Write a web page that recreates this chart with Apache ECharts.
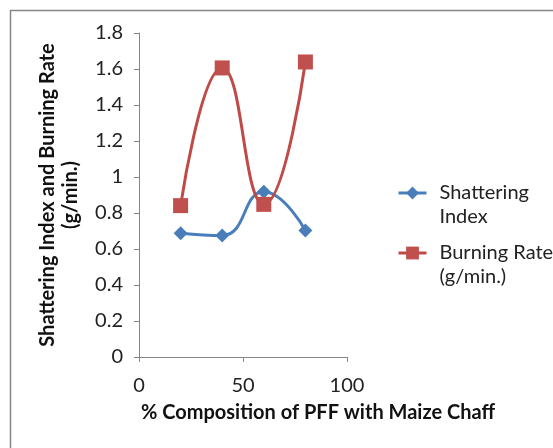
<!DOCTYPE html>
<html>
<head>
<meta charset="utf-8">
<script src="https://cdn.jsdelivr.net/npm/echarts@6/dist/echarts.min.js"></script>
<style>
  html, body { margin: 0; padding: 0; background: #fff; }
  #chart { width: 553px; height: 448px; }
</style>
</head>
<body>
<div id="chart"></div>
<script>
const compositions = [20, 40, 60, 80];
const shatteringIndex = [0.688, 0.675, 0.918, 0.703];
const burningRate = [0.841, 1.606, 0.848, 1.639];
const yTicks = [0, 0.2, 0.4, 0.6, 0.8, 1, 1.2, 1.4, 1.6, 1.8];

const font = "Lato, 'Liberation Sans', sans-serif";
const axisGray = "#868686";

const myChart = echarts.init(document.getElementById("chart"));

const pairs = (ys) => compositions.map((x, i) => [x, ys[i]]);

const legendText = {
  fontFamily: font,
  fontSize: 20,
  color: "#222",
  lineHeight: 24,
  padding: [0, 0, 0, 8],
};

const option = {
  animation: false,
  graphic: [
    {
      type: "rect",
      shape: { x: 10.5, y: 10.5, width: 700, height: 700 },
      style: { fill: "none", stroke: axisGray, lineWidth: 1.5 },
    },
  ],
  grid: { left: 139, top: 33, width: 208, height: 324 },
  legend: [
    {
      data: ["Shattering Index"],
      left: 392,
      top: 152,
      orient: "vertical",
      itemWidth: 28,
      itemHeight: 16,
      lineStyle: { width: 3 },
      textStyle: legendText,
      formatter: () => "\nShattering\nIndex",
    },
    {
      data: ["Burning Rate (g/min.)"],
      left: 392,
      top: 212,
      orient: "vertical",
      itemWidth: 28,
      itemHeight: 16,
      lineStyle: { width: 3 },
      textStyle: legendText,
      formatter: () => "\nBurning Rate\n(g/min.)",
    },
  ],
  xAxis: {
    type: "value",
    min: 0,
    max: 100,
    interval: 50,
    name: "% Composition of PFF with Maize Chaff",
    nameLocation: "middle",
    nameGap: 46,
    nameTextStyle: {
      fontFamily: font,
      fontSize: 20,
      fontWeight: "bold",
      color: "#111",
      padding: [0, 0, 0, 150],
    },
    axisLine: { lineStyle: { color: axisGray, width: 1 } },
    axisTick: { show: true, length: 5, lineStyle: { color: axisGray } },
    axisLabel: { fontFamily: font, fontSize: 20, color: "#222", margin: 19 },
    splitLine: { show: false },
  },
  yAxis: {
    type: "value",
    min: 0,
    max: 1.8,
    interval: 0.2,
    name: "Shattering Index and Burning Rate\n(g/min.)",
    nameLocation: "middle",
    nameGap: 57,
    nameTextStyle: {
      fontFamily: font,
      fontSize: 20,
      fontWeight: "bold",
      color: "#111",
      lineHeight: 23,
    },
    axisLine: { show: true, lineStyle: { color: axisGray, width: 1 } },
    axisTick: { show: true, length: 5, lineStyle: { color: axisGray } },
    axisLabel: {
      fontFamily: font,
      fontSize: 20,
      color: "#222",
      margin: 16,
      formatter: (v) => {
        const t = yTicks.find((k) => Math.abs(k - v) < 1e-6);
        return t === undefined ? "" : String(t);
      },
    },
    splitLine: { show: false },
  },
  series: [
    {
      name: "Shattering Index",
      type: "line",
      smooth: 0.5,
      data: pairs(shatteringIndex),
      symbol: "diamond",
      symbolSize: 14,
      lineStyle: { color: "#4a7ebb", width: 3 },
      itemStyle: { color: "#4a7ebb" },
      z: 2,
    },
    {
      name: "Burning Rate (g/min.)",
      type: "line",
      smooth: 0.5,
      data: pairs(burningRate),
      symbol: "rect",
      symbolSize: 15,
      lineStyle: { color: "#be4b48", width: 3 },
      itemStyle: { color: "#c0504d" },
      z: 3,
    },
  ],
};

myChart.setOption(option);
</script>
</body>
</html>
